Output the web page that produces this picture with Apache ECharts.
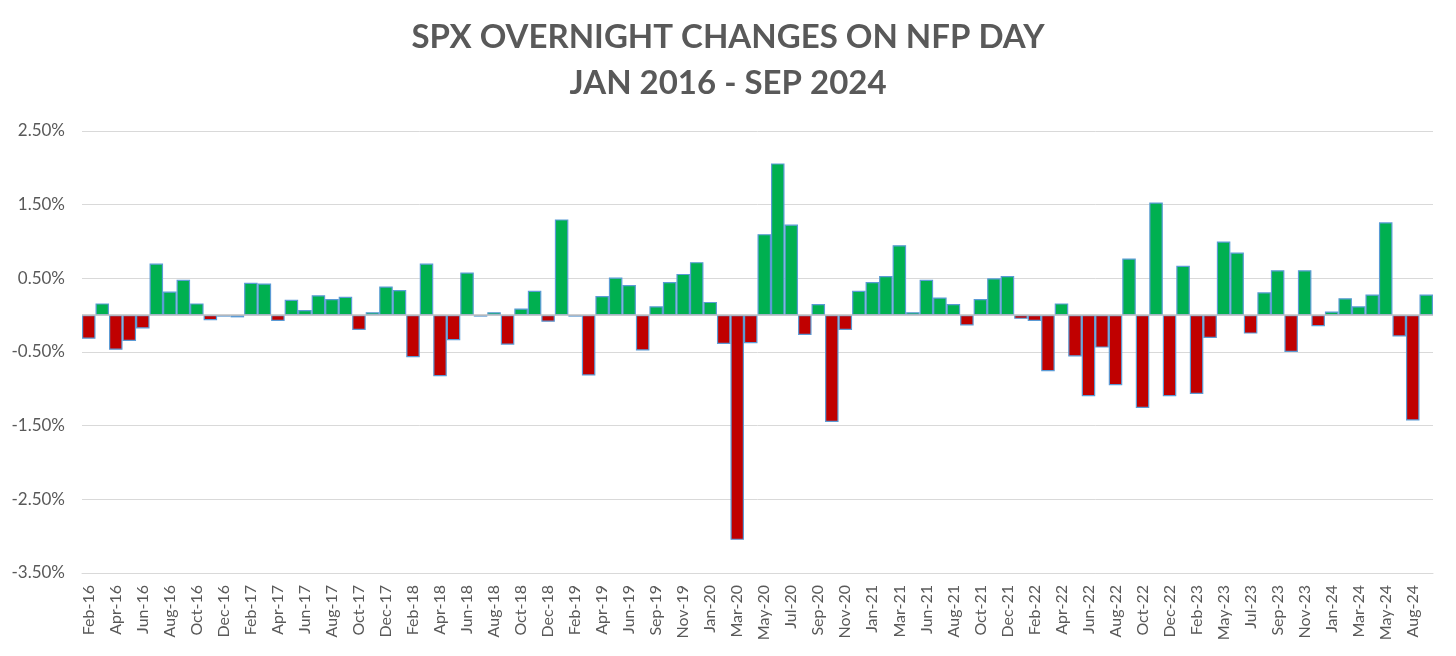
<!DOCTYPE html>
<html>
<head>
<meta charset="utf-8">
<script src="https://cdn.jsdelivr.net/npm/echarts@6/dist/echarts.min.js"></script>
<style>
  html, body { margin: 0; padding: 0; background: #fff; }
  #main { width: 1456px; height: 656px; }
</style>
</head>
<body>
<div id="main"></div>
<script>
// NFP release months (every other one is labelled on the axis)
var months = [
    'Feb-16', 'Mar-16', 'Apr-16', 'May-16', 'Jun-16', 'Jul-16', 'Aug-16', 'Sep-16', 'Oct-16', 'Nov-16', 'Dec-16', 'Jan-17',
    'Feb-17', 'Mar-17', 'Apr-17', 'May-17', 'Jun-17', 'Jul-17', 'Aug-17', 'Sep-17', 'Oct-17', 'Nov-17', 'Dec-17', 'Jan-18',
    'Feb-18', 'Mar-18', 'Apr-18', 'May-18', 'Jun-18', 'Jul-18', 'Aug-18', 'Sep-18', 'Oct-18', 'Nov-18', 'Dec-18', 'Jan-19',
    'Feb-19', 'Mar-19', 'Apr-19', 'May-19', 'Jun-19', 'Aug-19', 'Sep-19', 'Oct-19', 'Nov-19', 'Dec-19', 'Jan-20', 'Feb-20',
    'Mar-20', 'Apr-20', 'May-20', 'Jun-20', 'Jul-20', 'Aug-20', 'Sep-20', 'Oct-20', 'Nov-20', 'Dec-20', 'Jan-21', 'Feb-21',
    'Mar-21', 'May-21', 'Jun-21', 'Jul-21', 'Aug-21', 'Sep-21', 'Oct-21', 'Nov-21', 'Dec-21', 'Jan-22', 'Feb-22', 'Mar-22',
    'Apr-22', 'May-22', 'Jun-22', 'Jul-22', 'Aug-22', 'Sep-22', 'Oct-22', 'Nov-22', 'Dec-22', 'Jan-23', 'Feb-23', 'Apr-23',
    'May-23', 'Jun-23', 'Jul-23', 'Aug-23', 'Sep-23', 'Oct-23', 'Nov-23', 'Dec-23', 'Jan-24', 'Feb-24', 'Mar-24', 'Apr-24',
    'May-24', 'Jul-24', 'Aug-24', 'Sep-24'
];

// overnight change in %
var changes = [
    -0.32, 0.16, -0.47, -0.35, -0.18, 0.70, 0.32, 0.48, 0.16, -0.07, -0.02, -0.03,
    0.44, 0.43, -0.08, 0.21, 0.07, 0.27, 0.22, 0.25, -0.20, 0.04, 0.39, 0.34,
    -0.57, 0.70, -0.83, -0.34, 0.58, -0.02, 0.04, -0.40, 0.09, 0.33, -0.09, 1.30,
    -0.02, -0.82, 0.26, 0.51, 0.41, -0.48, 0.12, 0.45, 0.56, 0.72, 0.18, -0.39,
    -3.05, -0.38, 1.10, 2.06, 1.23, -0.27, 0.15, -1.45, -0.20, 0.33, 0.45, 0.53,
    0.95, 0.04, 0.48, 0.24, 0.15, -0.14, 0.22, 0.50, 0.53, -0.05, -0.08, -0.76,
    0.16, -0.56, -1.10, -0.44, -0.95, 0.77, -1.26, 1.53, -1.10, 0.67, -1.07, -0.31,
    1.00, 0.85, -0.25, 0.31, 0.61, -0.50, 0.61, -0.15, 0.05, 0.23, 0.12, 0.28,
    1.26, -0.29, -1.43, 0.28
];

var yMin = -3.5;
var yMax = 2.5;
var yStep = 1;

var textColor = '#595959';
var fontName = 'Lato, "Open Sans", sans-serif';

var myChart = echarts.init(document.getElementById('main'));

var option = {
    backgroundColor: '#ffffff',
    animation: false,
    title: {
        text: 'SPX OVERNIGHT CHANGES ON NFP DAY\nJAN 2016 - SEP 2024',
        left: 'center',
        top: 9,
        textStyle: {
            fontFamily: fontName,
            fontWeight: 'bold',
            fontSize: 33,
            lineHeight: 46,
            color: textColor
        }
    },
    grid: {
        left: 82,
        right: 23,
        top: 131,
        bottom: 83,
        containLabel: false
    },
    xAxis: {
        type: 'category',
        data: months,
        axisLine: {
            onZero: false,
            lineStyle: { color: '#d9d9d9', width: 1 }
        },
        axisTick: { show: false },
        axisLabel: {
            interval: 1,
            rotate: 90,
            margin: 12,
            fontFamily: fontName,
            fontSize: 16,
            color: textColor
        },
        splitLine: { show: false }
    },
    yAxis: {
        type: 'value',
        min: yMin,
        max: yMax,
        interval: yStep,
        axisLine: { show: false },
        axisTick: { show: false },
        axisLabel: {
            margin: 17,
            fontFamily: fontName,
            fontSize: 17,
            color: textColor,
            formatter: function (v) {
                return v.toFixed(2) + '%';
            }
        },
        splitLine: {
            lineStyle: { color: '#d9d9d9', width: 1 }
        }
    },
    series: [{
        name: 'SPX overnight',
        type: 'bar',
        data: changes,
        barCategoryGap: 0,
        itemStyle: {
            color: function (p) {
                return p.value >= 0 ? '#00b050' : '#c00000';
            },
            borderColor: '#5b9bd5',
            borderWidth: 1.2
        },
        markLine: {
            silent: true,
            symbol: 'none',
            label: { show: false },
            lineStyle: { color: '#bfbfbf', width: 1.5, type: 'solid' },
            data: [{ yAxis: 0 }]
        }
    }]
};

myChart.setOption(option);
</script>
</body>
</html>
